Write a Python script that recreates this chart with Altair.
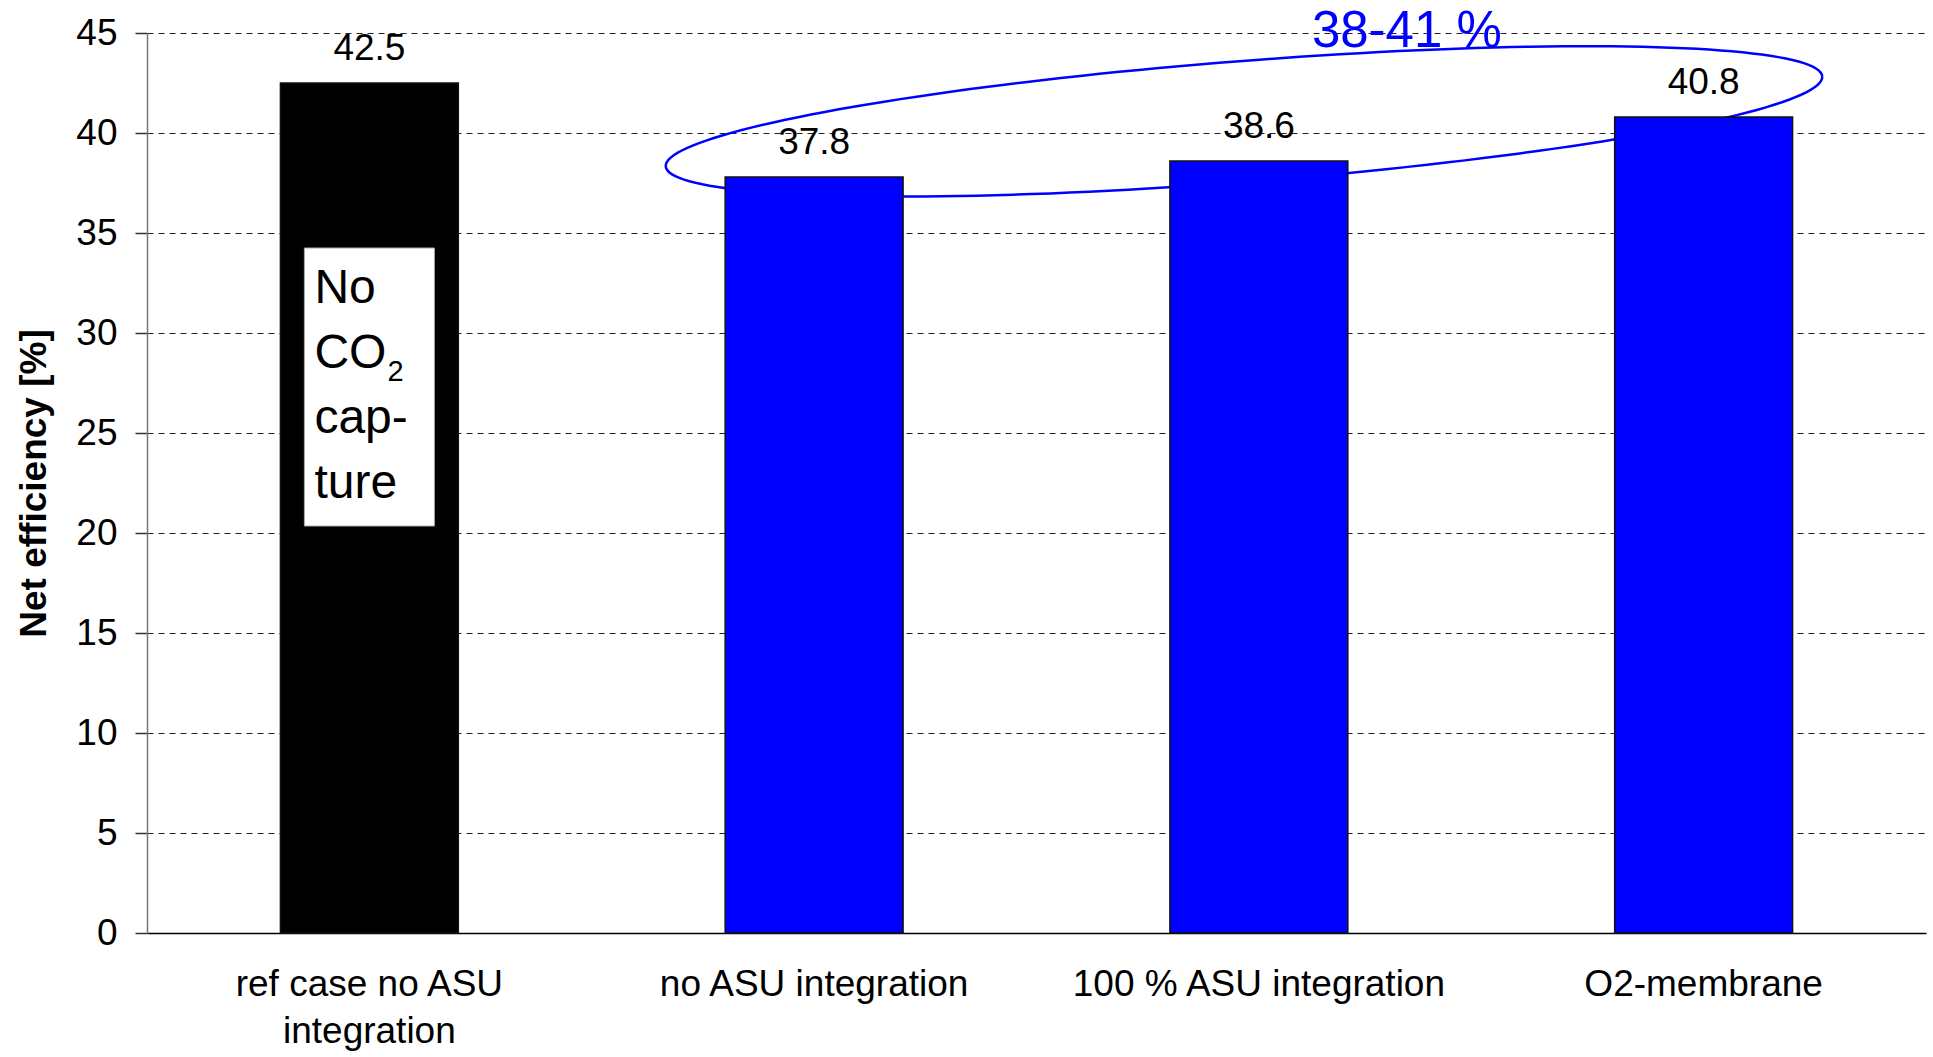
import json
import math

import altair as alt
import pandas as pd

# ---- data -------------------------------------------------------------
categories = [
    "ref case no ASU integration",
    "no ASU integration",
    "100 % ASU integration",
    "O2-membrane",
]
efficiency = [42.5, 37.8, 38.6, 40.8]
bar_colors = ["#000000", "#0000FF", "#0000FF", "#0000FF"]
label_lines = {"ref case no ASU integration": ["ref case no ASU", "integration"]}
y_ticks = [0, 5, 10, 15, 20, 25, 30, 35, 40, 45]
range_label = "38-41 %"
note_lines = ["No", "CO", "cap-", "ture"]

# ---- layout -----------------------------------------------------------
FONT = "Liberation Sans"
W, H = 1779, 900
Y_MAX = 45
PX_PER_UNIT = H / Y_MAX
STEP = W / 4.0
BLUE = "#0000FF"

bars_df = pd.DataFrame({"case": categories, "eff": efficiency, "color": bar_colors})

label_expr = "".join(
    f"datum.label === {json.dumps(k)} ? {json.dumps(v)} : " for k, v in label_lines.items()
) + "datum.label"

x_enc = alt.X(
    "case:N",
    sort=categories,
    scale=alt.Scale(paddingInner=0.6, paddingOuter=0.3),
    axis=alt.Axis(
        title=None,
        labelAngle=0,
        ticks=False,
        grid=False,
        domainColor="#000000",
        domainWidth=1.5,
        labelFont=FONT,
        labelFontSize=37,
        labelColor="#000000",
        labelPadding=33,
        labelLineHeight=47,
        labelBaseline="top",
        labelLimit=1000,
        labelOverlap=False,
        labelExpr=label_expr,
    ),
)

y_enc = alt.Y(
    "eff:Q",
    scale=alt.Scale(domain=[0, Y_MAX], nice=False, zero=True),
    axis=alt.Axis(
        values=y_ticks,
        title="Net efficiency [%]",
        titleFont=FONT,
        titleFontSize=37,
        titleFontWeight="bold",
        titleColor="#000000",
        titleAngle=270,
        titleX=-113,
        titleY=H / 2,
        titleAlign="center",
        titleBaseline="middle",
        grid=True,
        gridDash=[6, 5],
        gridColor="#222222",
        gridWidth=1,
        domainColor="#777777",
        domainWidth=1.5,
        tickColor="#333333",
        tickSize=12,
        tickWidth=1.5,
        labelFont=FONT,
        labelFontSize=37,
        labelColor="#000000",
        labelPadding=18,
    ),
)

# ---- ellipse around the capture cases (drawn behind the bars) -----------
E_CX, E_CY = 1097.0, 88.4      # centre, px from plot's top-left
E_A, E_B = 580.0, 60.4         # semi-axes, px
E_TILT = math.radians(4.45)
ell_rows = []
for i in range(0, 181):
    t = 2 * math.pi * i / 180
    px = E_CX + E_A * math.cos(t) * math.cos(E_TILT) + E_B * math.sin(t) * math.sin(E_TILT)
    py = E_CY - E_A * math.cos(t) * math.sin(E_TILT) + E_B * math.sin(t) * math.cos(E_TILT)
    ell_rows.append({"i": i, "ex": px / STEP, "eff": Y_MAX - py / PX_PER_UNIT})
ell_df = pd.DataFrame(ell_rows)

ellipse = (
    alt.Chart(ell_df)
    .mark_line(color=BLUE, strokeWidth=2.5, interpolate="linear")
    .encode(
        x=alt.X("ex:Q", scale=alt.Scale(domain=[0, 4], nice=False, zero=False), axis=None),
        y=y_enc,
        order="i:Q",
    )
)

bars = (
    alt.Chart(bars_df)
    .mark_bar(stroke="#111111", strokeWidth=1.5)
    .encode(x=x_enc, y=y_enc, color=alt.Color("color:N", scale=None))
)

values = (
    alt.Chart(bars_df)
    .mark_text(font=FONT, fontSize=37, color="#000000", baseline="alphabetic", dy=-23)
    .encode(x=x_enc, y=y_enc, text=alt.Text("eff:Q", format=".1f"))
)

range_text = (
    alt.Chart(pd.DataFrame({"case": [categories[2]]}))
    .mark_text(
        text=range_label, font=FONT, fontSize=51, color=BLUE,
        align="center", baseline="alphabetic", dx=148,
    )
    .encode(x=x_enc, y=alt.datum(44.3))
)

# white note box inside the reference bar
note_df = pd.DataFrame({"case": [categories[0]]})
note_box = (
    alt.Chart(note_df)
    .mark_bar(size=130, color="#FFFFFF", stroke="#AAAAAA", strokeWidth=1)
    .encode(x=x_enc, y=alt.datum(34.25), y2=alt.datum(20.35))
)
note_text = (
    alt.Chart(note_df)
    .mark_text(
        text=note_lines, font=FONT, fontSize=48, lineHeight=65, color="#000000",
        align="left", baseline="alphabetic", dx=-55,
    )
    .encode(x=x_enc, y=alt.datum(31.5))
)
note_sub = (
    alt.Chart(note_df)
    .mark_text(
        text="2", font=FONT, fontSize=29, color="#000000",
        align="left", baseline="alphabetic", dx=18,
    )
    .encode(x=x_enc, y=alt.datum(27.6))
)

# bars and their annotations share the category axis; the ellipse sits on its own
# hidden linear x scale underneath them
front = alt.layer(bars, values, range_text, note_box, note_text, note_sub)

chart = (
    alt.layer(ellipse, front)
    .resolve_scale(x="independent")
    .properties(
        width=W,
        height=H,
        autosize=alt.AutoSizeParams(type="none"),
        padding={"left": 147, "top": 33, "right": 7, "bottom": 124},
        background="#FFFFFF",
    )
    .configure_view(stroke=None)
)

chart.save("out.html", embed_options={"renderer": "svg", "actions": False})
